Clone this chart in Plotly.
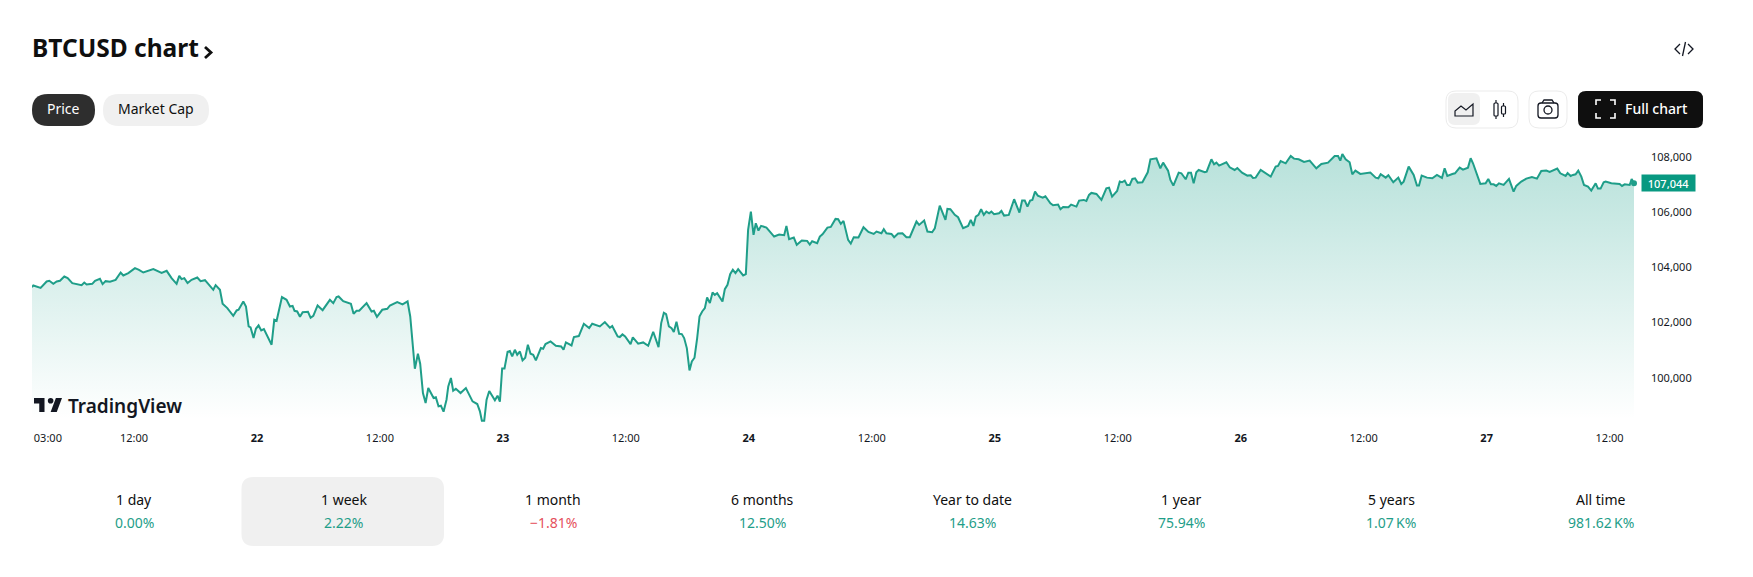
import pandas as pd
import plotly.graph_objects as go

W, H = 1753, 577
FONT = "Noto Sans"
GREEN = "#089981"
SOFT_GREEN = "#1f9e89"
RED = "#e5505c"
DARK = "#131722"

# hours since 21 Jun 00:00, price
hours = [2.05, 2.18, 2.89, 3.48, 3.74, 4.13, 4.46, 4.78, 5.20, 5.53, 5.98, 6.89, 7.15, 7.38, 7.93, 8.20, 8.68, 8.94, 9.23, 9.66,
         10.21, 10.70, 10.96, 11.45, 12.10, 12.49, 12.91, 13.89, 14.70, 15.19, 15.67, 16.16, 16.42, 16.65, 16.91, 17.23, 17.62, 18.18, 18.50, 18.93,
         19.74, 19.97, 20.39, 20.65, 21.11, 21.69, 22.02, 22.21, 22.67, 22.93, 23.19, 23.38, 23.67, 23.90, 24.16, 24.42, 24.68, 25.43, 25.69, 25.92,
         26.44, 26.89, 27.22, 27.48, 27.67, 27.93, 28.20, 28.46, 28.98, 29.24, 29.50, 29.92, 30.41, 31.12, 31.45, 31.77, 31.97, 32.42, 33.17, 33.43,
         33.72, 33.98, 34.70, 35.19, 35.41, 35.71, 36.23, 36.72, 36.98, 37.69, 38.21, 38.70, 38.96, 39.19, 39.41, 39.71, 39.93, 40.20, 40.46, 40.72,
         41.24, 41.46, 41.72, 41.95, 42.21, 42.50, 42.67, 42.93, 43.15, 43.41, 43.87, 44.39, 45.04, 45.50, 45.76, 45.95, 46.18, 46.41, 46.67, 47.22,
         47.48, 47.71, 47.93, 48.16, 48.46, 48.68, 48.91, 49.17, 49.40, 49.66, 49.92, 50.18, 50.44, 50.70, 50.96, 51.22, 51.71, 51.93, 52.16, 52.65,
         53.17, 53.69, 53.92, 54.15, 54.70, 54.93, 55.41, 55.90, 56.42, 56.72, 57.46, 57.95, 58.44, 58.67, 59.20, 59.41, 59.67, 59.93, 60.46, 60.68,
         61.20, 61.69, 62.18, 62.67, 63.19, 63.45, 63.71, 63.93, 64.20, 64.46, 64.68, 64.94, 65.20, 65.46, 65.69, 65.95, 66.21, 66.44, 66.70, 66.96,
         67.19, 67.45, 67.71, 67.93, 68.20, 68.46, 68.68, 68.91, 69.43, 69.66, 69.92, 70.18, 70.44, 70.70, 70.96, 71.45, 71.71, 71.93, 72.20, 72.46,
         72.68, 72.94, 73.20, 73.72, 74.47, 74.96, 75.45, 75.67, 75.93, 76.39, 76.68, 77.17, 77.69, 77.95, 78.18, 78.67, 78.93, 79.19, 79.67, 80.00,
         80.46, 80.72, 80.98, 81.24, 81.69, 81.95, 82.24, 82.70, 83.19, 83.67, 84.19, 84.46, 84.94, 85.17, 85.43, 85.92, 86.18, 86.57, 86.99, 87.38,
         87.71, 88.36, 88.62, 89.11, 89.43, 89.89, 90.15, 90.63, 91.19, 91.38, 91.67, 92.10, 92.42, 92.91, 93.40, 93.66, 93.92, 94.15, 94.41, 94.67,
         94.93, 95.18, 95.45, 95.67, 95.93, 96.42, 96.65, 96.91, 97.37, 97.89, 98.41, 98.67, 98.93, 99.19, 99.45, 99.67, 99.93, 100.20, 100.68, 100.94,
         101.43, 101.69, 102.18, 102.41, 102.67, 103.19, 103.45, 103.97, 104.23, 104.68, 104.94, 105.20, 105.43, 105.92, 106.41, 106.89, 107.15, 107.45, 107.94, 108.20,
         108.42, 108.68, 108.91, 109.17, 109.43, 109.69, 109.95, 110.41, 110.93, 111.19, 111.78, 112.16, 112.43, 112.91, 113.14, 113.43, 113.95, 114.21, 114.63, 114.89,
         115.15, 115.41, 115.67, 115.90, 116.49, 116.68, 117.14, 117.40, 117.63, 117.89, 118.60, 118.93, 119.41, 119.67, 120.13, 120.65, 120.98, 121.20, 121.46, 121.95,
         122.44, 122.93, 123.41, 123.64, 123.90, 124.39, 124.88, 125.20, 125.66, 126.18, 126.73, 127.38, 127.87, 128.52, 129.17, 129.50, 129.72, 129.92, 130.24, 130.63,
         130.89, 131.19, 131.67, 132.16, 132.65, 133.17, 133.43, 133.66, 134.15, 134.41, 134.89, 135.38, 135.67, 135.90, 136.39, 136.88, 137.20, 137.40, 137.66, 138.18,
         138.70, 139.15, 139.64, 139.90, 140.16, 140.65, 140.91, 141.37, 141.69, 142.18, 142.44, 142.67, 142.99, 143.38, 143.90, 144.16, 144.42, 144.68, 144.94, 145.20,
         145.66, 146.18, 146.63, 146.89, 147.38, 147.87, 148.42, 148.91, 149.33, 149.82, 150.15, 150.89, 151.19, 151.71, 151.90, 152.20, 152.42, 152.68, 152.94, 153.24,
         153.50, 153.89, 154.21, 154.64, 154.86, 155.12, 155.42, 155.61, 156.17, 156.98, 157.21, 157.47, 157.96, 158.15, 158.38]
prices = [103285, 103345, 103260, 103490, 103514, 103405, 103490, 103514, 103670, 103610, 103430, 103357, 103453, 103381, 103405, 103514, 103586, 103393, 103502, 103478,
          103550, 103815, 103707, 103791, 103972, 103912, 103815, 103936, 103803, 103876, 103610, 103405, 103695, 103574, 103610, 103430, 103550, 103635, 103502, 103538,
          103188, 103357, 103188, 102682, 102525, 102248, 102441, 102465, 102766, 102585, 101862, 101825, 101440, 101777, 101898, 101717, 101765, 101198, 102103, 102067,
          102923, 102826, 102585, 102609, 102428, 102404, 102211, 102380, 102392, 102175, 102247, 102621, 102452, 102826, 102706, 102923, 102947, 102778, 102682, 102320,
          102428, 102428, 102706, 102404, 102428, 102211, 102465, 102501, 102621, 102742, 102658, 102766, 102223, 101138, 100330, 100873, 100511, 99450, 99088, 99630,
          99268, 99293, 98967, 98991, 98774, 99208, 99691, 99992, 99534, 99606, 99450, 99630, 99148, 99052, 98786, 98449, 98449, 99208, 99522, 99184,
          99353, 99136, 100342, 100342, 100945, 100969, 100776, 101017, 100836, 100957, 100632, 100728, 101198, 100873, 100836, 100632, 101078, 101054, 101223, 101319,
          101162, 101138, 101017, 101283, 101174, 101476, 101512, 101958, 101801, 101958, 101862, 102019, 101813, 101874, 101500, 101476, 101572, 101500, 101223, 101464,
          101235, 101283, 101162, 101669, 101114, 101982, 102356, 102308, 101862, 101801, 101657, 102030, 101596, 101584, 101440, 101078, 100270, 100595, 100728, 101440,
          102223, 102404, 102525, 102911, 102706, 103092, 103007, 103068, 102766, 103212, 103369, 103755, 103912, 103791, 103936, 103707, 103755, 105359, 106022, 105178,
          105600, 105335, 105504, 105443, 105118, 105190, 105166, 105504, 105021, 105082, 104816, 104973, 104961, 104828, 104949, 104877, 105118, 105202, 105443, 105467,
          105757, 105745, 105576, 105685, 104997, 104864, 105094, 105082, 105455, 105287, 105214, 105299, 105238, 105383, 105238, 105214, 105094, 105226, 105238, 105094,
          105094, 105661, 105540, 105697, 105299, 105275, 105419, 106239, 105721, 106119, 106107, 105902, 105817, 105419, 105504, 105721, 105504, 105841, 105902, 106107,
          105902, 106022, 105962, 106022, 105926, 105962, 106046, 105878, 105902, 106469, 105986, 106420, 106420, 106203, 106420, 106444, 106746, 106601, 106529, 106577,
          106324, 106251, 106276, 106107, 106191, 106179, 106276, 106203, 106420, 106444, 106408, 106625, 106698, 106661, 106444, 106866, 106891, 106565, 106770, 107108,
          107084, 107144, 106987, 106987, 107204, 107228, 107072, 107084, 107445, 107916, 107952, 107590, 107795, 107506, 107168, 106963, 107433, 107409, 107192, 107433,
          107433, 107047, 107445, 107530, 107445, 107469, 107916, 107735, 107795, 107687, 107807, 107626, 107530, 107602, 107433, 107325, 107337, 107240, 107252, 107530,
          107409, 107289, 107650, 107675, 107855, 107771, 108036, 107940, 107916, 107819, 107868, 107590, 107747, 107795, 108036, 108036, 107868, 108109, 107916, 107807,
          107373, 107506, 107385, 107397, 107433, 107252, 107228, 107373, 107252, 107337, 107084, 107252, 107023, 107108, 107650, 107349, 106963, 106963, 107325, 107252,
          107228, 107349, 107240, 107590, 107313, 107385, 107409, 107614, 107542, 107614, 107952, 107771, 107409, 107023, 107047, 107204, 107011, 107011, 106951, 107047,
          106987, 107204, 106746, 106951, 107108, 107216, 107277, 107216, 107494, 107506, 107457, 107578, 107409, 107313, 107421, 107313, 107349, 107373, 107506, 107289,
          106987, 106927, 106782, 107047, 106854, 106854, 107084, 107108, 107047, 107023, 106951, 107011, 106987, 107204, 107044]

# first label sits a little inside the pane, hence 3.6 rather than 3
tick_hours = [3.6, 12, 24, 36, 48, 60, 72, 84, 96, 108, 120, 132, 144, 156]
tick_labels = ["03:00", "12:00", "<b>22</b>", "12:00", "<b>23</b>", "12:00", "<b>24</b>", "12:00",
               "<b>25</b>", "12:00", "<b>26</b>", "12:00", "<b>27</b>", "12:00"]
price_ticks = [100000, 102000, 104000, 106000, 108000]
last_price = 107044

periods = ["1 day", "1 week", "1 month", "6 months", "Year to date", "1 year", "5 years", "All time"]
changes = ["0.00%", "2.22%", "−1.81%", "12.50%", "14.63%", "75.94%", "1.07\u2009K%", "981.62\u2009K%"]

day0 = pd.Timestamp("2025-06-21")


def to_time(h):
    return day0 + pd.to_timedelta(h, unit="h")


def fx(x):
    return x / W


def fy(y):
    return 1 - y / H


def poly(points, close=False):
    s = "M" + " L".join(f"{fx(x):.5f},{fy(y):.5f}" for x, y in points)
    return s + (" Z" if close else "")


def box(x0, y0, x1, y1, r):
    # rounded rectangle as corner-cut path with quadratic corners
    return (f"M{fx(x0 + r):.5f},{fy(y0):.5f} L{fx(x1 - r):.5f},{fy(y0):.5f} Q{fx(x1):.5f},{fy(y0):.5f} {fx(x1):.5f},{fy(y0 + r):.5f} "
            f"L{fx(x1):.5f},{fy(y1 - r):.5f} Q{fx(x1):.5f},{fy(y1):.5f} {fx(x1 - r):.5f},{fy(y1):.5f} "
            f"L{fx(x0 + r):.5f},{fy(y1):.5f} Q{fx(x0):.5f},{fy(y1):.5f} {fx(x0):.5f},{fy(y1 - r):.5f} "
            f"L{fx(x0):.5f},{fy(y0 + r):.5f} Q{fx(x0):.5f},{fy(y0):.5f} {fx(x0 + r):.5f},{fy(y0):.5f} Z")


def shape(path, fill="rgba(0,0,0,0)", color="rgba(0,0,0,0)", width=0, layer="above"):
    return dict(type="path", xref="paper", yref="paper", path=path, fillcolor=fill,
                line=dict(color=color, width=width), layer=layer)


def circle(cx, cy, r, fill="rgba(0,0,0,0)", color="rgba(0,0,0,0)", width=0):
    return dict(type="circle", xref="paper", yref="paper", x0=fx(cx - r), x1=fx(cx + r), y0=fy(cy + r), y1=fy(cy - r),
                fillcolor=fill, line=dict(color=color, width=width), layer="above")


def label(x, y, text, size=14, color=DARK, weight=400, anchor="center"):
    return dict(xref="paper", yref="paper", x=fx(x), y=fy(y), text=text, showarrow=False, xanchor=anchor, yanchor="middle",
                font=dict(family=FONT, size=size, color=color, weight=weight))


def logo(u, v):
    return 34 + (u - 2) * 0.875, 398 + (v - 6) * 0.933


shapes = [
    # pills
    shape(box(32, 94, 95, 126, 16), fill="#2e2e2e", layer="below"),
    shape(box(103, 94, 209, 126, 16), fill="#f0f0f0", layer="below"),
    # title chevron and embed icon
    shape(poly([(205, 47), (211, 52.5), (205, 58)]), color="#0f0f0f", width=2.8),
    shape(poly([(1680, 44), (1675, 49), (1680, 54)]), color=DARK, width=1.3),
    shape(poly([(1688, 44), (1693, 49), (1688, 54)]), color=DARK, width=1.3),
    shape(poly([(1685.5, 42), (1682.5, 56)]), color=DARK, width=1.3),
    # chart style buttons
    shape(box(1446, 91, 1518, 128, 10), fill="#ffffff", color="#ebebeb", width=1),
    shape(box(1448, 93, 1480, 125, 7), fill="#f0f0f0"),
    shape(poly([(1455, 116), (1473, 116), (1473, 104), (1466, 110), (1461, 106), (1455, 111)], close=True), color=DARK, width=1.2),
    shape(box(1494, 103, 1498, 116, 1), color=DARK, width=1.2),
    shape(poly([(1496, 100), (1496, 103)]), color=DARK, width=1.2),
    shape(poly([(1496, 116), (1496, 119)]), color=DARK, width=1.2),
    shape(box(1501.5, 106, 1505.5, 114, 1), color=DARK, width=1.2),
    shape(poly([(1503.5, 103), (1503.5, 106)]), color=DARK, width=1.2),
    shape(poly([(1503.5, 114), (1503.5, 117)]), color=DARK, width=1.2),
    # camera
    shape(box(1529, 91, 1567, 128, 10), fill="#ffffff", color="#ebebeb", width=1),
    shape(box(1538, 103, 1558, 118, 3), color=DARK, width=1.3),
    shape(poly([(1542, 103), (1544, 100), (1552, 100), (1554, 103)]), color=DARK, width=1.3),
    circle(1548, 110, 4, color=DARK, width=1.3),
    # full chart button
    shape(box(1578, 91, 1703, 128, 8), fill="#0f0f0f"),
    shape(poly([(1596, 105), (1596, 100), (1601, 100)]), color="#ffffff", width=1.6),
    shape(poly([(1610, 100), (1615, 100), (1615, 105)]), color="#ffffff", width=1.6),
    shape(poly([(1596, 113), (1596, 118), (1601, 118)]), color="#ffffff", width=1.6),
    shape(poly([(1610, 118), (1615, 118), (1615, 113)]), color="#ffffff", width=1.6),
    # TradingView logo
    shape(poly([logo(2, 6), logo(14, 6), logo(14, 21), logo(8, 21), logo(8, 12), logo(2, 12)], close=True), fill="#131722"),
    shape(poly([logo(28, 21), logo(21, 21), logo(27, 6), logo(34, 6)], close=True), fill="#131722"),
    circle(*logo(21, 9), 2.8, fill="#131722"),
    # selected period
    shape(box(241.5, 477, 444, 546, 12), fill="#f0f0f0", layer="below"),
]

annotations = [
    label(30, 48, "BTCUSD chart", size=24.5, color="#0f0f0f", weight=700, anchor="left"),
    label(63.5, 109, "Price", color="#ffffff"),
    label(156, 109, "Market Cap", color="#0f0f0f"),
    label(1656, 109, "Full chart", color="#ffffff", weight=500),
    label(66, 405.5, "TradingView", size=19, color="#131722", weight=600, anchor="left"),
    dict(xref="paper", yref="y", x=fx(1641), y=last_price, text="107,044", showarrow=False, xanchor="left", yanchor="middle",
         width=51, height=14, bgcolor=GREEN, font=dict(family=FONT, size=11, color="#ffffff", weight=500)),
]
for i, (period, change) in enumerate(zip(periods, changes)):
    cx = 134 + 209.5 * i
    annotations.append(label(cx, 499, period, color="#0f0f0f"))
    annotations.append(label(cx, 522, change, color=RED if change.startswith("−") else SOFT_GREEN))

times = [to_time(h) for h in hours]

fig = go.Figure()
fig.add_trace(go.Scatter(
    x=times, y=prices, mode="lines", line=dict(color=SOFT_GREEN, width=2), fill="tozeroy",
    fillgradient=dict(type="vertical", start=98500, stop=108500,
                      colorscale=[[0, "rgba(8,153,129,0)"], [1, "rgba(8,153,129,0.3)"]]),
    hoverinfo="skip",
))
fig.add_trace(go.Scatter(
    x=[times[-1]], y=[last_price], mode="markers", marker=dict(color=SOFT_GREEN, size=6), cliponaxis=False, hoverinfo="skip",
))
fig.update_layout(
    width=W, height=H, margin=dict(l=0, r=0, t=0, b=0), showlegend=False,
    plot_bgcolor="#ffffff", paper_bgcolor="#ffffff", shapes=shapes, annotations=annotations,
    xaxis=dict(domain=[fx(32), fx(1634)], range=[times[0], times[-1]], tickmode="array",
               tickvals=[to_time(h) for h in tick_hours], ticktext=tick_labels, showgrid=False, zeroline=False,
               ticks="", ticklabelstandoff=7, tickfont=dict(family=FONT, size=11, color=DARK)),
    yaxis=dict(domain=[fy(423), fy(130)], range=[98364, 108977], side="right", tickmode="array",
               tickvals=price_ticks, ticktext=[f"{v:,}" for v in price_ticks], showgrid=False, zeroline=False,
               ticks="", ticklabelstandoff=16, tickfont=dict(family=FONT, size=11, color=DARK)),
)
fig.write_html("out.html", config=dict(displayModeBar=False), post_script="document.body.style.margin='0';")
